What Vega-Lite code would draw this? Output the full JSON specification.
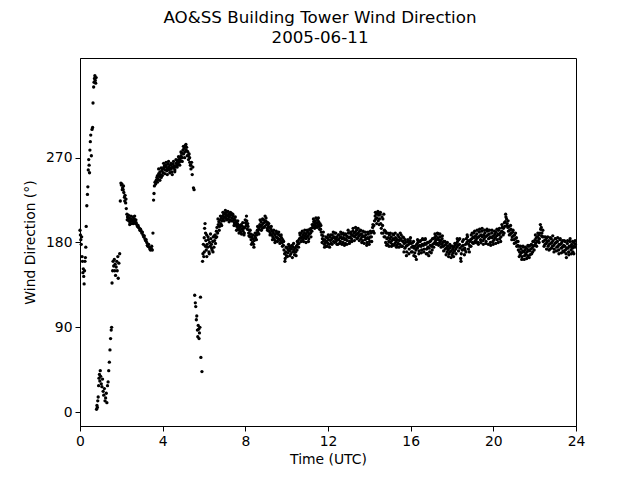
{
"$schema": "https://vega.github.io/schema/vega-lite/v6.json",
"width": 496, "height": 368,
"autosize": {"type": "none"},
"padding": {"left": 80, "top": 58, "right": 64, "bottom": 54},
"background": "white",
"config": {"view": {"stroke": "black", "strokeWidth": 1}, "font": "DejaVu Sans"},
"title": {"text": ["AO&SS Building Tower Wind Direction", "2005-06-11"], "font": "DejaVu Sans", "fontSize": 16.7, "fontWeight": "normal", "color": "black", "anchor": "middle", "dx": -8, "offset": 11, "lineHeight": 20},
"data": {"values": [
{"time":0.0,"dir":193},{"time":0.02,"dir":188},{"time":0.04,"dir":183},{"time":0.06,"dir":178},{"time":0.08,"dir":186},{"time":0.10,"dir":165},{"time":0.12,"dir":160},{"time":0.14,"dir":148},{"time":0.16,"dir":152},{"time":0.18,"dir":144},{"time":0.20,"dir":136},{"time":0.22,"dir":150},{"time":0.24,"dir":160},{"time":0.26,"dir":164},{"time":0.28,"dir":175},{"time":0.30,"dir":197},{"time":0.33,"dir":219},{"time":0.36,"dir":231},{"time":0.38,"dir":239},{"time":0.40,"dir":257},{"time":0.42,"dir":268},{"time":0.44,"dir":262},{"time":0.46,"dir":254},{"time":0.48,"dir":278},{"time":0.50,"dir":287},{"time":0.52,"dir":294},{"time":0.55,"dir":272},{"time":0.58,"dir":300},{"time":0.61,"dir":302},{"time":0.63,"dir":328},{"time":0.66,"dir":345},{"time":0.68,"dir":350},{"time":0.70,"dir":354},{"time":0.72,"dir":357},{"time":0.74,"dir":352},{"time":0.76,"dir":349},{"time":0.78,"dir":355},
{"time":0.80,"dir":3},{"time":0.82,"dir":7},{"time":0.84,"dir":5},{"time":0.86,"dir":12},{"time":0.88,"dir":16},{"time":0.90,"dir":28},{"time":0.92,"dir":36},{"time":0.94,"dir":40},{"time":0.96,"dir":33},{"time":0.98,"dir":44},{"time":1.00,"dir":38},{"time":1.03,"dir":30},{"time":1.06,"dir":27},{"time":1.09,"dir":35},{"time":1.12,"dir":22},{"time":1.15,"dir":18},{"time":1.18,"dir":25},{"time":1.21,"dir":12},{"time":1.24,"dir":15},{"time":1.27,"dir":20},{"time":1.30,"dir":10},{"time":1.33,"dir":28},{"time":1.36,"dir":32},{"time":1.39,"dir":44},{"time":1.42,"dir":53},{"time":1.45,"dir":66},{"time":1.48,"dir":78},{"time":1.51,"dir":87},{"time":1.53,"dir":90},
{"time":1.55,"dir":137},{"time":1.58,"dir":150},{"time":1.60,"dir":160},{"time":1.63,"dir":155},{"time":1.66,"dir":162},{"time":1.68,"dir":150},{"time":1.70,"dir":157},{"time":1.72,"dir":145},{"time":1.75,"dir":154},{"time":1.78,"dir":160},{"time":1.80,"dir":150},{"time":1.83,"dir":165},{"time":1.85,"dir":142},{"time":1.88,"dir":158},{"time":1.92,"dir":168},
{"time":1.95,"dir":224},{"time":1.98,"dir":243},{"time":2.00,"dir":241},{"time":2.03,"dir":242},{"time":2.06,"dir":238},{"time":2.09,"dir":236},{"time":2.12,"dir":233},{"time":2.15,"dir":228},{"time":2.18,"dir":230},{"time":2.21,"dir":222},{"time":2.24,"dir":216},{"time":2.27,"dir":210},{"time":2.30,"dir":207},{"time":2.33,"dir":205},{"time":2.36,"dir":203},{"time":2.39,"dir":206},{"time":2.42,"dir":201},{"time":2.45,"dir":203},{"time":2.48,"dir":205},{"time":2.51,"dir":200},{"time":2.54,"dir":204},{"time":2.57,"dir":207},{"time":2.60,"dir":202},{"time":2.63,"dir":205},{"time":2.66,"dir":203},{"time":2.69,"dir":200},{"time":2.72,"dir":201},{"time":2.75,"dir":199},{"time":2.78,"dir":197},{"time":2.81,"dir":198},{"time":2.84,"dir":196},{"time":2.87,"dir":195},{"time":2.90,"dir":193},{"time":2.93,"dir":194},{"time":2.96,"dir":192},{"time":2.99,"dir":190},{"time":3.02,"dir":191},{"time":3.05,"dir":188},{"time":3.08,"dir":186},{"time":3.11,"dir":187},{"time":3.14,"dir":184},{"time":3.17,"dir":182},{"time":3.20,"dir":183},{"time":3.23,"dir":180},{"time":3.26,"dir":177},{"time":3.29,"dir":176},{"time":3.32,"dir":178},{"time":3.35,"dir":175},{"time":3.38,"dir":173},{"time":3.41,"dir":172},{"time":3.44,"dir":174},{"time":3.47,"dir":176},{"time":3.50,"dir":172},
{"time":2.045,"dir":236},{"time":2.105,"dir":240},{"time":2.165,"dir":224},{"time":2.225,"dir":226},{"time":2.285,"dir":204},{"time":2.345,"dir":209},{"time":2.405,"dir":199},{"time":2.465,"dir":208},{"time":2.525,"dir":203},{"time":2.585,"dir":200},{"time":2.645,"dir":208},{"time":2.705,"dir":204},
{"time":3.53,"dir":190},{"time":3.56,"dir":225},{"time":3.58,"dir":232},{"time":3.60,"dir":240},{"time":3.63,"dir":244},{"time":3.66,"dir":242},{"time":3.69,"dir":246},{"time":3.72,"dir":249},{"time":3.75,"dir":251},{"time":3.78,"dir":247},{"time":3.81,"dir":253},{"time":3.84,"dir":250},{"time":3.87,"dir":255},{"time":3.90,"dir":252},{"time":3.93,"dir":249},{"time":3.96,"dir":256},{"time":3.99,"dir":258},{"time":4.02,"dir":254},{"time":4.05,"dir":259},{"time":4.08,"dir":261},{"time":4.11,"dir":257},{"time":4.14,"dir":262},{"time":4.17,"dir":260},{"time":4.20,"dir":256},{"time":4.23,"dir":258},{"time":4.26,"dir":263},{"time":4.29,"dir":260},{"time":4.32,"dir":257},{"time":4.35,"dir":259},{"time":4.38,"dir":262},{"time":4.41,"dir":258},{"time":4.44,"dir":255},{"time":4.47,"dir":260},{"time":4.50,"dir":263},{"time":4.53,"dir":259},{"time":4.56,"dir":261},{"time":4.59,"dir":257},{"time":4.62,"dir":260},{"time":4.65,"dir":264},{"time":4.68,"dir":262},{"time":4.71,"dir":266},{"time":4.74,"dir":263},{"time":4.77,"dir":268},{"time":4.80,"dir":265},{"time":4.83,"dir":270},{"time":4.86,"dir":267},{"time":4.89,"dir":272},{"time":4.92,"dir":275},{"time":4.95,"dir":270},{"time":4.98,"dir":278},{"time":5.01,"dir":274},{"time":5.04,"dir":280},{"time":5.07,"dir":276},{"time":5.10,"dir":283},{"time":5.13,"dir":278},{"time":5.16,"dir":281},{"time":5.19,"dir":272},{"time":5.22,"dir":276},{"time":5.25,"dir":268},{"time":5.28,"dir":274},{"time":5.31,"dir":265},{"time":5.34,"dir":262},{"time":5.37,"dir":258},{"time":5.40,"dir":265},{"time":5.43,"dir":252},{"time":5.46,"dir":260},{"time":5.49,"dir":238},{"time":5.52,"dir":236},
{"time":3.745,"dir":244},{"time":3.805,"dir":258},{"time":3.865,"dir":246},{"time":3.925,"dir":259},{"time":3.985,"dir":251},{"time":4.045,"dir":264},{"time":4.105,"dir":253},{"time":4.165,"dir":265},{"time":4.225,"dir":252},{"time":4.285,"dir":266},{"time":4.345,"dir":254},{"time":4.405,"dir":264},{"time":4.465,"dir":252},{"time":4.525,"dir":266},{"time":4.585,"dir":255},{"time":4.645,"dir":268},{"time":4.705,"dir":260},{"time":4.765,"dir":271},{"time":4.825,"dir":262},{"time":4.885,"dir":276},{"time":4.945,"dir":266},{"time":5.005,"dir":282},{"time":5.065,"dir":270},{"time":5.125,"dir":284},{"time":5.185,"dir":277},{"time":5.245,"dir":272},{"time":5.305,"dir":270},{"time":5.365,"dir":262},
{"time":5.55,"dir":124},{"time":5.58,"dir":116},{"time":5.60,"dir":112},{"time":5.63,"dir":98},{"time":5.65,"dir":102},{"time":5.68,"dir":87},{"time":5.70,"dir":80},{"time":5.72,"dir":92},{"time":5.74,"dir":88},{"time":5.76,"dir":78},{"time":5.78,"dir":84},{"time":5.80,"dir":90},{"time":5.83,"dir":122},{"time":5.85,"dir":58},{"time":5.90,"dir":43},
{"time":5.93,"dir":160},{"time":5.95,"dir":168},{"time":5.97,"dir":178},{"time":5.99,"dir":165},{"time":6.01,"dir":185},{"time":6.03,"dir":195},{"time":6.05,"dir":200},{"time":6.07,"dir":176},{"time":6.09,"dir":182},{"time":6.11,"dir":172},{"time":6.13,"dir":188},{"time":6.15,"dir":178},{"time":6.18,"dir":175},{"time":6.21,"dir":183},{"time":6.24,"dir":170},{"time":6.27,"dir":180},{"time":6.30,"dir":176},{"time":6.33,"dir":184},{"time":6.36,"dir":178},{"time":6.39,"dir":172},{"time":6.42,"dir":181},{"time":6.45,"dir":186},{"time":6.48,"dir":175},{"time":6.51,"dir":182},{"time":6.54,"dir":188},{"time":6.57,"dir":185},{"time":6.60,"dir":192},{"time":6.63,"dir":196},{"time":6.66,"dir":190},{"time":6.69,"dir":199},{"time":6.72,"dir":202},{"time":6.75,"dir":197},{"time":6.78,"dir":204},{"time":6.81,"dir":200},{"time":6.84,"dir":206},{"time":6.87,"dir":203},{"time":6.90,"dir":208},{"time":6.93,"dir":205},{"time":6.96,"dir":210},{"time":6.99,"dir":207},{"time":7.02,"dir":211},{"time":7.05,"dir":206},{"time":7.08,"dir":209},{"time":7.11,"dir":212},{"time":7.14,"dir":208},{"time":7.17,"dir":205},{"time":7.20,"dir":210},{"time":7.23,"dir":207},{"time":7.26,"dir":204},{"time":7.29,"dir":209},{"time":7.32,"dir":211},{"time":7.35,"dir":206},{"time":7.38,"dir":203},{"time":7.41,"dir":208},{"time":7.44,"dir":205},{"time":7.47,"dir":201},{"time":7.50,"dir":204},{"time":7.53,"dir":199},{"time":7.56,"dir":202},{"time":7.59,"dir":197},{"time":7.62,"dir":200},{"time":7.65,"dir":195},{"time":7.68,"dir":198},{"time":7.71,"dir":193},{"time":7.74,"dir":196},{"time":7.77,"dir":191},{"time":7.80,"dir":199},{"time":7.83,"dir":194},{"time":7.86,"dir":197},{"time":7.89,"dir":192},{"time":7.92,"dir":195},{"time":7.95,"dir":190},{"time":7.98,"dir":196},{"time":8.01,"dir":201},{"time":8.04,"dir":198},{"time":8.07,"dir":203},{"time":8.10,"dir":194},{"time":8.13,"dir":197},{"time":8.16,"dir":190},{"time":8.19,"dir":193},{"time":8.22,"dir":186},{"time":8.25,"dir":189},{"time":8.28,"dir":183},{"time":8.31,"dir":186},{"time":8.34,"dir":180},{"time":8.37,"dir":184},{"time":8.40,"dir":178},{"time":8.43,"dir":182},{"time":8.46,"dir":187},{"time":8.49,"dir":185},{"time":8.52,"dir":190},{"time":8.55,"dir":188},{"time":8.58,"dir":193},{"time":8.61,"dir":191},{"time":8.64,"dir":196},{"time":8.67,"dir":194},{"time":8.70,"dir":199},{"time":8.73,"dir":197},{"time":8.76,"dir":202},{"time":8.79,"dir":198},{"time":8.82,"dir":195},{"time":8.85,"dir":200},{"time":8.88,"dir":204},{"time":8.91,"dir":201},{"time":8.94,"dir":197},{"time":8.97,"dir":203},{"time":9.00,"dir":206},{"time":9.03,"dir":199},{"time":9.06,"dir":195},{"time":9.09,"dir":201},{"time":9.12,"dir":197},{"time":9.15,"dir":192},{"time":9.18,"dir":196},{"time":9.21,"dir":190},{"time":9.24,"dir":194},{"time":9.27,"dir":188},{"time":9.30,"dir":192},{"time":9.33,"dir":186},{"time":9.36,"dir":190},{"time":9.39,"dir":184},{"time":9.42,"dir":188},{"time":9.45,"dir":182},{"time":9.48,"dir":186},{"time":9.51,"dir":190},{"time":9.54,"dir":185},{"time":9.57,"dir":189},{"time":9.60,"dir":184},{"time":9.63,"dir":188},{"time":9.66,"dir":183},{"time":9.69,"dir":187},{"time":9.72,"dir":181},{"time":9.75,"dir":185},{"time":9.78,"dir":180},{"time":9.81,"dir":183},{"time":9.84,"dir":177},{"time":9.87,"dir":172},{"time":9.90,"dir":168},{"time":9.93,"dir":163},{"time":9.96,"dir":170},{"time":9.99,"dir":166},{"time":10.02,"dir":174},{"time":10.05,"dir":169},{"time":10.08,"dir":172},{"time":10.11,"dir":176},{"time":10.14,"dir":171},{"time":10.17,"dir":174},{"time":10.20,"dir":168},{"time":10.23,"dir":173},{"time":10.26,"dir":177},{"time":10.29,"dir":170},{"time":10.32,"dir":175},{"time":10.35,"dir":172},{"time":10.38,"dir":167},{"time":10.41,"dir":174},{"time":10.44,"dir":170},{"time":10.47,"dir":176},{"time":10.50,"dir":172},{"time":10.53,"dir":178},{"time":10.56,"dir":182},{"time":10.59,"dir":179},{"time":10.62,"dir":184},{"time":10.65,"dir":188},{"time":10.68,"dir":185},{"time":10.71,"dir":190},{"time":10.74,"dir":186},{"time":10.77,"dir":183},{"time":10.80,"dir":188},{"time":10.83,"dir":185},{"time":10.86,"dir":190},{"time":10.89,"dir":187},{"time":10.92,"dir":184},{"time":10.95,"dir":189},{"time":10.98,"dir":186},{"time":11.01,"dir":191},{"time":11.04,"dir":187},{"time":11.07,"dir":184},{"time":11.10,"dir":189},{"time":11.13,"dir":193},{"time":11.16,"dir":190},{"time":11.19,"dir":195},{"time":11.22,"dir":192},{"time":11.25,"dir":196},{"time":11.28,"dir":199},{"time":11.31,"dir":202},{"time":11.34,"dir":198},{"time":11.37,"dir":203},{"time":11.40,"dir":200},{"time":11.43,"dir":197},{"time":11.46,"dir":201},{"time":11.49,"dir":204},{"time":11.52,"dir":199},{"time":11.55,"dir":202},{"time":11.58,"dir":197},{"time":11.61,"dir":200},{"time":11.64,"dir":194},{"time":11.67,"dir":191},{"time":11.70,"dir":188},{"time":11.73,"dir":184},{"time":11.76,"dir":187},{"time":11.79,"dir":182},{"time":11.82,"dir":178},{"time":11.85,"dir":183},{"time":11.88,"dir":180},{"time":11.91,"dir":176},{"time":11.94,"dir":181},{"time":11.97,"dir":185},{"time":12.00,"dir":179},{"time":12.03,"dir":183},{"time":12.06,"dir":178},{"time":12.09,"dir":186},{"time":12.12,"dir":182},{"time":12.15,"dir":179},{"time":12.18,"dir":184},{"time":12.21,"dir":188},{"time":12.24,"dir":185},{"time":12.27,"dir":181},{"time":12.30,"dir":186},{"time":12.33,"dir":190},{"time":12.36,"dir":184},{"time":12.39,"dir":181},{"time":12.42,"dir":186},{"time":12.45,"dir":183},{"time":12.48,"dir":178},{"time":12.51,"dir":183},{"time":12.54,"dir":188},{"time":12.57,"dir":185},{"time":12.60,"dir":181},{"time":12.63,"dir":186},{"time":12.66,"dir":189},{"time":12.69,"dir":184},{"time":12.72,"dir":180},{"time":12.75,"dir":185},{"time":12.78,"dir":188},{"time":12.81,"dir":183},{"time":12.84,"dir":179},{"time":12.87,"dir":184},{"time":12.90,"dir":187},{"time":12.93,"dir":182},{"time":12.96,"dir":186},{"time":12.99,"dir":190},{"time":13.02,"dir":185},{"time":13.05,"dir":181},{"time":13.08,"dir":186},{"time":13.11,"dir":189},{"time":13.14,"dir":184},{"time":13.17,"dir":188},{"time":13.20,"dir":192},{"time":13.23,"dir":187},{"time":13.26,"dir":190},{"time":13.29,"dir":186},{"time":13.32,"dir":191},{"time":13.35,"dir":188},{"time":13.38,"dir":193},{"time":13.41,"dir":189},{"time":13.44,"dir":185},{"time":13.47,"dir":190},{"time":13.50,"dir":187},{"time":13.53,"dir":192},{"time":13.56,"dir":188},{"time":13.59,"dir":184},{"time":13.62,"dir":189},{"time":13.65,"dir":186},{"time":13.68,"dir":182},{"time":13.71,"dir":187},{"time":13.74,"dir":191},{"time":13.77,"dir":186},{"time":13.80,"dir":183},{"time":13.83,"dir":188},{"time":13.86,"dir":184},{"time":13.89,"dir":180},{"time":13.92,"dir":185},{"time":13.95,"dir":189},{"time":13.98,"dir":184},{"time":14.01,"dir":181},{"time":14.04,"dir":186},{"time":14.07,"dir":190},{"time":14.10,"dir":186},{"time":14.13,"dir":191},{"time":14.16,"dir":196},{"time":14.19,"dir":192},{"time":14.22,"dir":198},{"time":14.25,"dir":203},{"time":14.28,"dir":208},{"time":14.31,"dir":205},{"time":14.34,"dir":210},{"time":14.37,"dir":206},{"time":14.40,"dir":211},{"time":14.43,"dir":203},{"time":14.46,"dir":209},{"time":14.49,"dir":205},{"time":14.52,"dir":210},{"time":14.55,"dir":200},{"time":14.58,"dir":195},{"time":14.61,"dir":207},{"time":14.64,"dir":198},{"time":14.67,"dir":190},{"time":14.70,"dir":210},{"time":14.73,"dir":193},{"time":14.76,"dir":186},{"time":14.79,"dir":180},{"time":14.82,"dir":190},{"time":14.85,"dir":184},{"time":14.88,"dir":178},{"time":14.91,"dir":185},{"time":14.94,"dir":181},{"time":14.97,"dir":188},{"time":15.00,"dir":184},{"time":15.03,"dir":180},{"time":15.06,"dir":186},{"time":15.09,"dir":182},{"time":15.12,"dir":178},{"time":15.15,"dir":184},{"time":15.18,"dir":188},{"time":15.21,"dir":183},{"time":15.24,"dir":179},{"time":15.27,"dir":185},{"time":15.30,"dir":181},{"time":15.33,"dir":177},{"time":15.36,"dir":183},{"time":15.39,"dir":179},{"time":15.42,"dir":186},{"time":15.45,"dir":182},{"time":15.48,"dir":178},{"time":15.51,"dir":184},{"time":15.54,"dir":188},{"time":15.57,"dir":182},{"time":15.60,"dir":176},{"time":15.63,"dir":181},{"time":15.66,"dir":185},{"time":15.69,"dir":179},{"time":15.72,"dir":174},{"time":15.75,"dir":180},{"time":15.78,"dir":176},{"time":15.81,"dir":170},{"time":15.84,"dir":177},{"time":15.87,"dir":183},{"time":15.90,"dir":178},{"time":15.93,"dir":173},{"time":15.96,"dir":180},{"time":15.99,"dir":185},{"time":16.02,"dir":179},{"time":16.05,"dir":175},{"time":16.08,"dir":170},{"time":16.11,"dir":176},{"time":16.14,"dir":181},{"time":16.17,"dir":174},{"time":16.20,"dir":169},{"time":16.23,"dir":165},{"time":16.26,"dir":172},{"time":16.29,"dir":178},{"time":16.32,"dir":174},{"time":16.35,"dir":180},{"time":16.38,"dir":176},{"time":16.41,"dir":171},{"time":16.44,"dir":177},{"time":16.47,"dir":182},{"time":16.50,"dir":176},{"time":16.53,"dir":172},{"time":16.56,"dir":178},{"time":16.59,"dir":183},{"time":16.62,"dir":177},{"time":16.65,"dir":173},{"time":16.68,"dir":179},{"time":16.71,"dir":184},{"time":16.74,"dir":178},{"time":16.77,"dir":173},{"time":16.80,"dir":168},{"time":16.83,"dir":175},{"time":16.86,"dir":180},{"time":16.89,"dir":174},{"time":16.92,"dir":170},{"time":16.95,"dir":177},{"time":16.98,"dir":182},{"time":17.01,"dir":176},{"time":17.04,"dir":172},{"time":17.07,"dir":178},{"time":17.10,"dir":184},{"time":17.13,"dir":179},{"time":17.16,"dir":185},{"time":17.19,"dir":181},{"time":17.22,"dir":187},{"time":17.25,"dir":183},{"time":17.28,"dir":179},{"time":17.31,"dir":185},{"time":17.34,"dir":189},{"time":17.37,"dir":183},{"time":17.40,"dir":180},{"time":17.43,"dir":186},{"time":17.46,"dir":182},{"time":17.49,"dir":178},{"time":17.52,"dir":184},{"time":17.55,"dir":180},{"time":17.58,"dir":176},{"time":17.61,"dir":181},{"time":17.64,"dir":177},{"time":17.67,"dir":173},{"time":17.70,"dir":178},{"time":17.73,"dir":174},{"time":17.76,"dir":170},{"time":17.79,"dir":176},{"time":17.82,"dir":172},{"time":17.85,"dir":168},{"time":17.88,"dir":174},{"time":17.91,"dir":170},{"time":17.94,"dir":176},{"time":17.97,"dir":171},{"time":18.00,"dir":167},{"time":18.03,"dir":173},{"time":18.06,"dir":169},{"time":18.09,"dir":175},{"time":18.12,"dir":171},{"time":18.15,"dir":177},{"time":18.18,"dir":173},{"time":18.21,"dir":179},{"time":18.24,"dir":175},{"time":18.27,"dir":181},{"time":18.30,"dir":177},{"time":18.33,"dir":183},{"time":18.36,"dir":178},{"time":18.39,"dir":174},{"time":18.42,"dir":163},{"time":18.45,"dir":168},{"time":18.48,"dir":176},{"time":18.51,"dir":181},{"time":18.54,"dir":177},{"time":18.57,"dir":173},{"time":18.60,"dir":167},{"time":18.63,"dir":172},{"time":18.66,"dir":178},{"time":18.69,"dir":184},{"time":18.72,"dir":180},{"time":18.75,"dir":186},{"time":18.78,"dir":182},{"time":18.81,"dir":178},{"time":18.84,"dir":170},{"time":18.87,"dir":176},{"time":18.90,"dir":183},{"time":18.93,"dir":188},{"time":18.96,"dir":184},{"time":18.99,"dir":180},{"time":19.02,"dir":186},{"time":19.05,"dir":190},{"time":19.08,"dir":185},{"time":19.11,"dir":181},{"time":19.14,"dir":187},{"time":19.17,"dir":183},{"time":19.20,"dir":189},{"time":19.23,"dir":185},{"time":19.26,"dir":180},{"time":19.29,"dir":186},{"time":19.32,"dir":191},{"time":19.35,"dir":187},{"time":19.38,"dir":183},{"time":19.41,"dir":188},{"time":19.44,"dir":192},{"time":19.47,"dir":186},{"time":19.50,"dir":182},{"time":19.53,"dir":188},{"time":19.56,"dir":184},{"time":19.59,"dir":190},{"time":19.62,"dir":186},{"time":19.65,"dir":181},{"time":19.68,"dir":187},{"time":19.71,"dir":192},{"time":19.74,"dir":188},{"time":19.77,"dir":184},{"time":19.80,"dir":189},{"time":19.83,"dir":185},{"time":19.86,"dir":180},{"time":19.89,"dir":186},{"time":19.92,"dir":190},{"time":19.95,"dir":185},{"time":19.98,"dir":181},{"time":20.01,"dir":187},{"time":20.04,"dir":183},{"time":20.07,"dir":189},{"time":20.10,"dir":185},{"time":20.13,"dir":191},{"time":20.16,"dir":187},{"time":20.19,"dir":183},{"time":20.22,"dir":189},{"time":20.25,"dir":193},{"time":20.28,"dir":188},{"time":20.31,"dir":184},{"time":20.34,"dir":190},{"time":20.37,"dir":186},{"time":20.40,"dir":192},{"time":20.43,"dir":196},{"time":20.46,"dir":191},{"time":20.49,"dir":195},{"time":20.52,"dir":190},{"time":20.55,"dir":197},{"time":20.58,"dir":202},{"time":20.61,"dir":207},{"time":20.64,"dir":205},{"time":20.67,"dir":200},{"time":20.70,"dir":196},{"time":20.73,"dir":192},{"time":20.76,"dir":197},{"time":20.79,"dir":193},{"time":20.82,"dir":189},{"time":20.85,"dir":194},{"time":20.88,"dir":190},{"time":20.91,"dir":186},{"time":20.94,"dir":191},{"time":20.97,"dir":187},{"time":21.00,"dir":183},{"time":21.03,"dir":188},{"time":21.06,"dir":184},{"time":21.09,"dir":180},{"time":21.12,"dir":185},{"time":21.15,"dir":181},{"time":21.18,"dir":177},{"time":21.21,"dir":172},{"time":21.24,"dir":176},{"time":21.27,"dir":170},{"time":21.30,"dir":167},{"time":21.33,"dir":173},{"time":21.36,"dir":169},{"time":21.39,"dir":165},{"time":21.42,"dir":171},{"time":21.45,"dir":175},{"time":21.48,"dir":170},{"time":21.51,"dir":166},{"time":21.54,"dir":172},{"time":21.57,"dir":168},{"time":21.60,"dir":174},{"time":21.63,"dir":170},{"time":21.66,"dir":166},{"time":21.69,"dir":172},{"time":21.72,"dir":176},{"time":21.75,"dir":171},{"time":21.78,"dir":167},{"time":21.81,"dir":173},{"time":21.84,"dir":178},{"time":21.87,"dir":174},{"time":21.90,"dir":170},{"time":21.93,"dir":176},{"time":21.96,"dir":181},{"time":21.99,"dir":177},{"time":22.02,"dir":183},{"time":22.05,"dir":179},{"time":22.08,"dir":185},{"time":22.11,"dir":181},{"time":22.14,"dir":186},{"time":22.17,"dir":182},{"time":22.20,"dir":188},{"time":22.23,"dir":184},{"time":22.26,"dir":190},{"time":22.29,"dir":194},{"time":22.32,"dir":196},{"time":22.35,"dir":190},{"time":22.38,"dir":186},{"time":22.41,"dir":181},{"time":22.44,"dir":186},{"time":22.47,"dir":182},{"time":22.50,"dir":178},{"time":22.53,"dir":183},{"time":22.56,"dir":179},{"time":22.59,"dir":185},{"time":22.62,"dir":181},{"time":22.65,"dir":176},{"time":22.68,"dir":182},{"time":22.71,"dir":178},{"time":22.74,"dir":173},{"time":22.77,"dir":179},{"time":22.80,"dir":184},{"time":22.83,"dir":180},{"time":22.86,"dir":176},{"time":22.89,"dir":182},{"time":22.92,"dir":177},{"time":22.95,"dir":173},{"time":22.98,"dir":179},{"time":23.01,"dir":184},{"time":23.04,"dir":180},{"time":23.07,"dir":175},{"time":23.10,"dir":181},{"time":23.13,"dir":176},{"time":23.16,"dir":172},{"time":23.19,"dir":178},{"time":23.22,"dir":183},{"time":23.25,"dir":178},{"time":23.28,"dir":174},{"time":23.31,"dir":180},{"time":23.34,"dir":175},{"time":23.37,"dir":171},{"time":23.40,"dir":177},{"time":23.43,"dir":182},{"time":23.46,"dir":176},{"time":23.49,"dir":172},{"time":23.52,"dir":168},{"time":23.55,"dir":174},{"time":23.58,"dir":179},{"time":23.61,"dir":174},{"time":23.64,"dir":170},{"time":23.67,"dir":176},{"time":23.70,"dir":181},{"time":23.73,"dir":176},{"time":23.76,"dir":172},{"time":23.79,"dir":178},{"time":23.82,"dir":174},{"time":23.85,"dir":170},{"time":23.88,"dir":176},{"time":23.91,"dir":180},{"time":23.94,"dir":175},{"time":23.97,"dir":178},
{"time":6.015,"dir":170},{"time":6.075,"dir":190},{"time":6.135,"dir":165},{"time":6.195,"dir":186},{"time":6.255,"dir":168},{"time":6.315,"dir":189},{"time":6.375,"dir":174},{"time":6.435,"dir":170},{"time":6.495,"dir":187},{"time":6.555,"dir":179},{"time":6.615,"dir":186},{"time":6.675,"dir":205},{"time":6.735,"dir":193},{"time":6.795,"dir":208},{"time":6.855,"dir":198},{"time":6.915,"dir":212},{"time":6.975,"dir":203},{"time":7.035,"dir":214},{"time":7.095,"dir":204},{"time":7.155,"dir":213},{"time":7.215,"dir":202},{"time":7.275,"dir":212},{"time":7.335,"dir":203},{"time":7.395,"dir":210},{"time":7.455,"dir":198},{"time":7.515,"dir":207},{"time":7.575,"dir":193},{"time":7.635,"dir":203},{"time":7.695,"dir":190},{"time":7.755,"dir":198},{"time":7.815,"dir":189},{"time":7.875,"dir":201},{"time":7.935,"dir":188},{"time":7.995,"dir":204},{"time":8.055,"dir":208},{"time":8.115,"dir":200},{"time":8.175,"dir":187},{"time":8.235,"dir":193},{"time":8.295,"dir":178},{"time":8.355,"dir":188},{"time":8.415,"dir":175},{"time":8.475,"dir":190},{"time":8.535,"dir":183},{"time":8.595,"dir":197},{"time":8.655,"dir":189},{"time":8.715,"dir":204},{"time":8.775,"dir":193},{"time":8.835,"dir":205},{"time":8.895,"dir":196},{"time":8.955,"dir":208},{"time":9.015,"dir":202},{"time":9.075,"dir":193},{"time":9.135,"dir":200},{"time":9.195,"dir":188},{"time":9.255,"dir":197},{"time":9.315,"dir":183},{"time":9.375,"dir":193},{"time":9.435,"dir":180},{"time":9.495,"dir":192},{"time":9.555,"dir":181},{"time":9.615,"dir":191},{"time":9.675,"dir":179},{"time":9.735,"dir":188},{"time":9.795,"dir":176},{"time":9.855,"dir":181},{"time":9.915,"dir":160},{"time":9.975,"dir":175},{"time":10.035,"dir":165},{"time":10.095,"dir":178},{"time":10.155,"dir":166},{"time":10.215,"dir":176},{"time":10.275,"dir":164},{"time":10.335,"dir":179},{"time":10.395,"dir":170},{"time":10.455,"dir":166},{"time":10.515,"dir":181},{"time":10.575,"dir":175},{"time":10.635,"dir":190},{"time":10.695,"dir":181},{"time":10.755,"dir":192},{"time":10.815,"dir":181},{"time":10.875,"dir":193},{"time":10.935,"dir":180},{"time":10.995,"dir":193},{"time":11.055,"dir":181},{"time":11.115,"dir":194},{"time":11.175,"dir":186},{"time":11.235,"dir":199},{"time":11.295,"dir":205},{"time":11.355,"dir":195},{"time":11.415,"dir":206},{"time":11.475,"dir":196},{"time":11.535,"dir":206},{"time":11.595,"dir":194},{"time":11.655,"dir":198},{"time":11.715,"dir":180},{"time":11.775,"dir":191},{"time":11.835,"dir":175},{"time":11.895,"dir":186},{"time":11.955,"dir":176},{"time":12.015,"dir":188},{"time":12.075,"dir":175},{"time":12.135,"dir":188},{"time":12.195,"dir":178},{"time":12.255,"dir":191},{"time":12.315,"dir":180},{"time":12.375,"dir":190},{"time":12.435,"dir":178},{"time":12.495,"dir":188},{"time":12.555,"dir":179},{"time":12.615,"dir":191},{"time":12.675,"dir":178},{"time":12.735,"dir":190},{"time":12.795,"dir":177},{"time":12.855,"dir":189},{"time":12.915,"dir":178},{"time":12.975,"dir":193},{"time":13.035,"dir":179},{"time":13.095,"dir":191},{"time":13.155,"dir":181},{"time":13.215,"dir":195},{"time":13.275,"dir":182},{"time":13.335,"dir":196},{"time":13.395,"dir":184},{"time":13.455,"dir":195},{"time":13.515,"dir":182},{"time":13.575,"dir":193},{"time":13.635,"dir":180},{"time":13.695,"dir":192},{"time":13.755,"dir":179},{"time":13.815,"dir":191},{"time":13.875,"dir":177},{"time":13.935,"dir":191},{"time":13.995,"dir":178},{"time":14.055,"dir":192},{"time":14.115,"dir":181},{"time":14.175,"dir":199},{"time":14.235,"dir":190},{"time":14.295,"dir":212},{"time":14.355,"dir":200},{"time":14.415,"dir":213},{"time":14.475,"dir":199},{"time":14.535,"dir":212},{"time":14.595,"dir":190},{"time":14.655,"dir":205},{"time":14.715,"dir":186},{"time":14.775,"dir":192},{"time":14.835,"dir":177},{"time":14.895,"dir":190},{"time":14.955,"dir":176},{"time":15.015,"dir":190},{"time":15.075,"dir":176},{"time":15.135,"dir":189},{"time":15.195,"dir":177},{"time":15.255,"dir":190},{"time":15.315,"dir":175},{"time":15.375,"dir":188},{"time":15.435,"dir":175},{"time":15.495,"dir":190},{"time":15.555,"dir":176},{"time":15.615,"dir":186},{"time":15.675,"dir":170},{"time":15.735,"dir":183},{"time":15.795,"dir":166},{"time":15.855,"dir":181},{"time":15.915,"dir":168},{"time":15.975,"dir":182},{"time":16.035,"dir":170},{"time":16.095,"dir":180},{"time":16.155,"dir":166},{"time":16.215,"dir":176},{"time":16.275,"dir":162},{"time":16.335,"dir":183},{"time":16.395,"dir":168},{"time":16.455,"dir":181},{"time":16.515,"dir":169},{"time":16.575,"dir":184},{"time":16.635,"dir":170},{"time":16.695,"dir":183},{"time":16.755,"dir":168},{"time":16.815,"dir":180},{"time":16.875,"dir":166},{"time":16.935,"dir":181},{"time":16.995,"dir":169},{"time":17.055,"dir":184},{"time":17.115,"dir":175},{"time":17.175,"dir":189},{"time":17.235,"dir":178},{"time":17.295,"dir":190},{"time":17.355,"dir":177},{"time":17.415,"dir":189},{"time":17.475,"dir":175},{"time":17.535,"dir":187},{"time":17.595,"dir":171},{"time":17.655,"dir":181},{"time":17.715,"dir":167},{"time":17.775,"dir":180},{"time":17.835,"dir":165},{"time":17.895,"dir":178},{"time":17.955,"dir":164},{"time":18.015,"dir":176},{"time":18.075,"dir":165},{"time":18.135,"dir":179},{"time":18.195,"dir":168},{"time":18.255,"dir":184},{"time":18.315,"dir":171},{"time":18.375,"dir":184},{"time":18.435,"dir":160},{"time":18.495,"dir":172},{"time":18.555,"dir":183},{"time":18.615,"dir":174},{"time":18.675,"dir":170},{"time":18.735,"dir":188},{"time":18.795,"dir":173},{"time":18.855,"dir":181},{"time":18.915,"dir":176},{"time":18.975,"dir":190},{"time":19.035,"dir":179},{"time":19.095,"dir":192},{"time":19.155,"dir":180},{"time":19.215,"dir":193},{"time":19.275,"dir":178},{"time":19.335,"dir":194},{"time":19.395,"dir":180},{"time":19.455,"dir":195},{"time":19.515,"dir":178},{"time":19.575,"dir":193},{"time":19.635,"dir":179},{"time":19.695,"dir":194},{"time":19.755,"dir":178},{"time":19.815,"dir":193},{"time":19.875,"dir":177},{"time":19.935,"dir":193},{"time":19.995,"dir":178},{"time":20.055,"dir":192},{"time":20.115,"dir":179},{"time":20.175,"dir":194},{"time":20.235,"dir":180},{"time":20.295,"dir":195},{"time":20.355,"dir":181},{"time":20.415,"dir":199},{"time":20.475,"dir":188},{"time":20.535,"dir":201},{"time":20.595,"dir":210},{"time":20.655,"dir":198},{"time":20.715,"dir":203},{"time":20.775,"dir":188},{"time":20.835,"dir":198},{"time":20.895,"dir":183},{"time":20.955,"dir":193},{"time":21.015,"dir":179},{"time":21.075,"dir":190},{"time":21.135,"dir":176},{"time":21.195,"dir":181},{"time":21.255,"dir":165},{"time":21.315,"dir":176},{"time":21.375,"dir":162},{"time":21.435,"dir":176},{"time":21.495,"dir":162},{"time":21.555,"dir":175},{"time":21.615,"dir":163},{"time":21.675,"dir":177},{"time":21.735,"dir":164},{"time":21.795,"dir":177},{"time":21.855,"dir":168},{"time":21.915,"dir":181},{"time":21.975,"dir":172},{"time":22.035,"dir":188},{"time":22.095,"dir":176},{"time":22.155,"dir":190},{"time":22.215,"dir":180},{"time":22.275,"dir":199},{"time":22.335,"dir":187},{"time":22.395,"dir":193},{"time":22.455,"dir":176},{"time":22.515,"dir":186},{"time":22.575,"dir":173},{"time":22.635,"dir":186},{"time":22.695,"dir":172},{"time":22.755,"dir":185},{"time":22.815,"dir":174},{"time":22.875,"dir":187},{"time":22.935,"dir":170},{"time":22.995,"dir":184},{"time":23.055,"dir":171},{"time":23.115,"dir":185},{"time":23.175,"dir":168},{"time":23.235,"dir":184},{"time":23.295,"dir":169},{"time":23.355,"dir":182},{"time":23.415,"dir":170},{"time":23.475,"dir":181},{"time":23.535,"dir":164},{"time":23.595,"dir":182},{"time":23.655,"dir":167},{"time":23.715,"dir":184},{"time":23.775,"dir":168},{"time":23.835,"dir":181},{"time":23.895,"dir":168},{"time":23.955,"dir":182}
]},
"mark": {"type": "circle", "size": 11, "color": "black", "opacity": 1},
"encoding": {
"x": {"field": "time", "type": "quantitative", "title": "Time (UTC)",
 "scale": {"domain": [0, 24], "nice": false, "zero": false},
 "axis": {"values": [0,4,8,12,16,20,24], "grid": false, "domainColor": "black", "tickColor": "black", "tickSize": 5, "labelPadding": 3, "labelColor": "black", "labelFontSize": 13.9, "labelFont": "DejaVu Sans", "titleFont": "DejaVu Sans", "titleFontSize": 13.9, "titleFontWeight": "normal", "titleColor": "black", "titlePadding": 5, "labelFlush": false}},
"y": {"field": "dir", "type": "quantitative", "title": "Wind Direction (°)",
 "scale": {"domain": [-14.75, 375.75], "nice": false, "zero": false},
 "axis": {"values": [0,90,180,270], "grid": false, "domainColor": "black", "tickColor": "black", "tickSize": 5, "labelPadding": 3, "labelColor": "black", "labelFontSize": 13.9, "labelFont": "DejaVu Sans", "titleFont": "DejaVu Sans", "titleFontSize": 13.9, "titleFontWeight": "normal", "titleColor": "black", "titlePadding": 8, "labelFlush": false}}
}
}
